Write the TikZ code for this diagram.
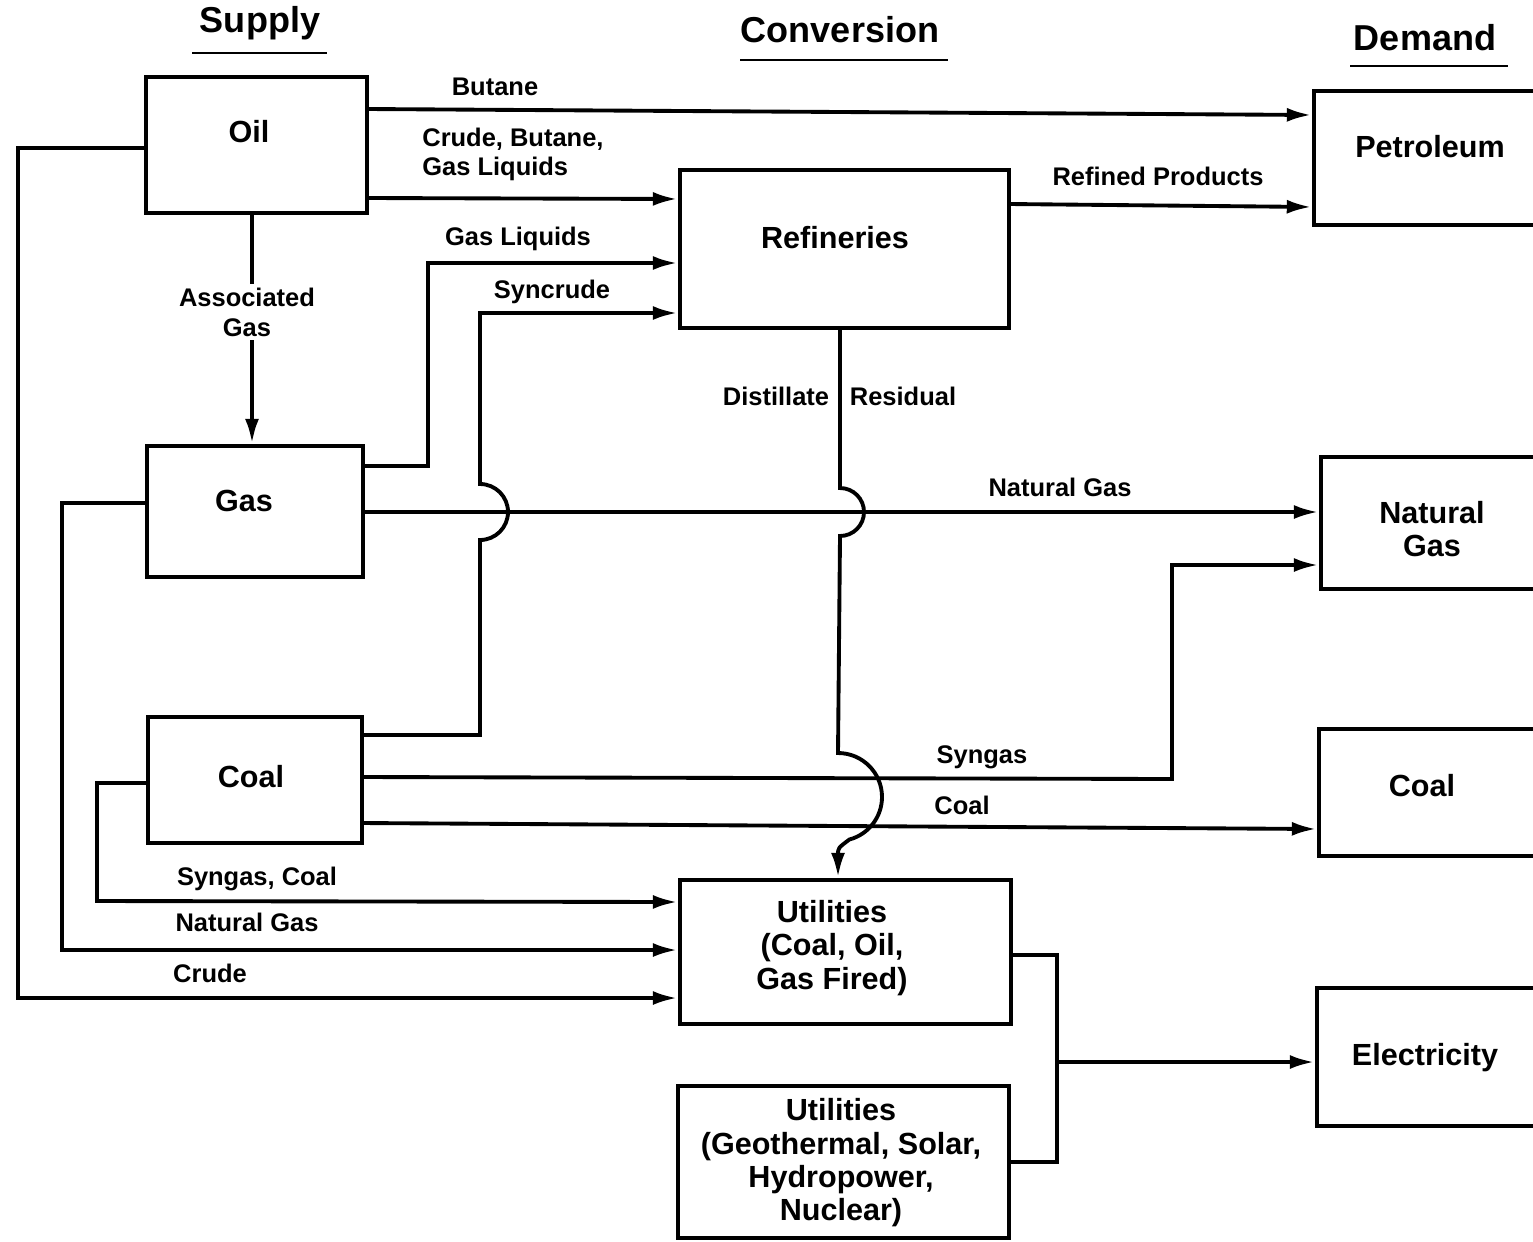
\documentclass[tikz,border=0pt]{standalone}
\usepackage{fontspec}
\setmainfont{Liberation Sans}
\usetikzlibrary{arrows.meta,fit}
\begin{document}
\begin{tikzpicture}[x=0.02cm, y=-0.02cm,
  box/.style={draw, line width=2pt, inner sep=0pt, outer sep=0pt},
  boxtxt/.style={font=\fontsize{17.4}{19}\selectfont\bfseries, align=center, inner sep=0pt, yshift=-1.7pt},
  onetxt/.style={boxtxt, text height=0.716em, text depth=0pt},
  lbl/.style={font=\fontsize{14.5}{17}\selectfont\bfseries, inner sep=0pt, text height=0.716em, text depth=0pt, yshift=-1.7pt},
  head/.style={font=\fontsize{20.5}{24}\selectfont\bfseries, inner sep=0pt, text height=0.716em, text depth=0pt, yshift=-2.5pt},
  conn/.style={line width=2.2pt},
  arr/.style={conn, -{Latex[length=14pt,width=8pt]}, shorten >=1.5pt},
  uline/.style={line width=1.7pt},
]
\path[fill=white, use as bounding box] (0,0) rectangle (1533,1241);

% headings
\node[head] (hsup) at (260,22) {Supply};
\node[head] (hcon) at (840,32) {Conversion};
\node[head] (hdem) at (1425,40) {Demand};
\draw[uline] (192,53) -- (327,53);
\draw[uline] (740,60) -- (948,60);
\draw[uline] (1350,66) -- (1508,66);

% boxes
\node[box, fit={(146,77)(367,213)}] (oil) {};
\node[box, fit={(147,446)(363,577)}] (gas) {};
\node[box, fit={(148,717)(362,843)}] (coal) {};
\node[box, fit={(680,170)(1009,328)}] (ref) {};
\node[box, fit={(680,880)(1011,1024)}] (util) {};
\node[box, fit={(678,1086)(1009,1238)}] (utilr) {};
\node[box, fit={(1314,91)(1570,225)}] (pet) {};
\node[box, fit={(1321,457)(1570,589)}] (ng) {};
\node[box, fit={(1319,729)(1570,856)}] (dcoal) {};
\node[box, fit={(1317,988)(1570,1126)}] (elec) {};

% box texts
\node[onetxt] (toil) at (249,133) {Oil};
\node[onetxt] (tgas) at (244,502) {Gas};
\node[onetxt] (tcoal) at (251,778) {Coal};
\node[onetxt] (tref) at (835,239) {Refineries};
\node[boxtxt] (tutil) at (832,945) {Utilities\\(Coal, Oil,\\Gas Fired)};
\node[boxtxt] (tutilr) at (841,1160) {Utilities\\(Geothermal, Solar,\\Hydropower,\\Nuclear)};
\node[onetxt] (tpet) at (1430,148) {Petroleum};
\node[boxtxt] (tng) at (1432,526) {Natural\\Gas};
\node[onetxt] (tdcoal) at (1422,787) {Coal};
\node[onetxt] (telec) at (1425,1056) {Electricity};

% connectors
\draw[arr] (oil.east |- 0,109) -- (pet.west |- 0,115);
\node[lbl] (lbut) at (495,86) {Butane};

\draw[arr] (oil.east |- 0,198) -- (ref.west |- 0,199);
\node[lbl, anchor=west] (lcbg1) at (422,137) {Crude, Butane,};
\node[lbl, anchor=west] (lcbg2) at (422,166) {Gas Liquids};

\draw[arr] (oil.south -| 252,0) -- (gas.north -| 252,0);
\node[font=\fontsize{14.5}{17}\selectfont\bfseries, align=center, fill=white, inner sep=2pt] (lassoc) at (247,312) {Associated\\Gas};

\draw[arr] (oil.west |- 0,148) -- (18,148) -- (18,998) -- (util.west |- 0,998);
\node[lbl] (lcrude) at (210,973) {Crude};

\draw[arr] (gas.east |- 0,466) -- (428,466) -- (428,263) -- (ref.west |- 0,263);
\node[lbl] (lgl) at (518,236) {Gas Liquids};

\draw[arr] (gas.east |- 0,512) -- (ng.west |- 0,512);
\node[lbl] (lng) at (1060,487) {Natural Gas};

\draw[arr] (gas.west |- 0,503) -- (62,503) -- (62,950) -- (util.west |- 0,950);
\node[lbl] (lng2) at (247,922) {Natural Gas};

\draw[arr] (coal.east |- 0,735) -- (480,735) -- (480,540)
  arc[start angle=90, end angle=-90, radius=28] -- (480,313) -- (ref.west |- 0,313);
\node[lbl] (lsyn) at (552,289) {Syncrude};

\draw[arr] (coal.east |- 0,777) -- (1172,779) -- (1172,565) -- (ng.west |- 0,565);
\node[lbl] (lsyngas) at (982,754) {Syngas};

\draw[arr] (coal.east |- 0,823) -- (dcoal.west |- 0,829);
\node[lbl] (lcoal) at (962,805) {Coal};

\draw[arr] (coal.west |- 0,783) -- (97,783) -- (97,901) -- (util.west |- 0,902);
\node[lbl] (lsc) at (257,876) {Syngas, Coal};

\draw[arr] (ref.east |- 0,204) -- (pet.west |- 0,207);
\node[lbl] (lrp) at (1158,176) {Refined Products};

\draw[arr] (ref.south -| 840,0) -- (840,488)
  arc[start angle=-90, end angle=90, radius=24] -- (838,753)
  arc[start angle=-90, end angle=75, radius=44]
  .. controls (838,848) .. (util.north -| 838,0);
\node[lbl] (ldist) at (776,396) {Distillate};
\node[lbl] (lres) at (903,396) {Residual};

\coordinate (junc) at (1057,1062);
\draw[conn] (util.east |- 0,955) -- (1057,955) -- (1057,1162) -- (utilr.east |- 0,1162);
\draw[arr] (junc) -- (elec.west |- junc);
\end{tikzpicture}
\end{document}
